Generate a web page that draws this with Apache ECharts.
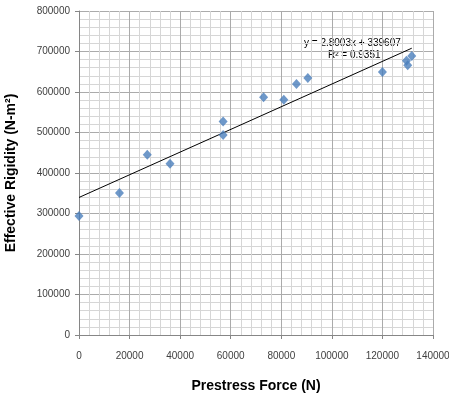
<!DOCTYPE html>
<html><head><meta charset="utf-8">
<script src="https://cdn.jsdelivr.net/npm/echarts@6/dist/echarts.min.js"></script>
<style>html,body{margin:0;padding:0;background:#fff}#c{width:449px;height:396px}</style>
</head><body><div id="c"></div>
<script>
const prestressForce = [0, 16000, 27000, 36000, 57000, 57000, 73000, 81000, 86000, 90500, 120000, 129500, 130000, 131600];
const effectiveRigidity = [294000, 350500, 445000, 423000, 527000, 494000, 587000, 581000, 620000, 634500, 649500, 677000, 666000, 689000];
const trendX = [0, 131600];
const trendY = [339607, 708127];
const xTicks = [0, 20000, 40000, 60000, 80000, 100000, 120000, 140000];
const yTicks = [0, 100000, 200000, 300000, 400000, 500000, 600000, 700000, 800000];
const eqText = 'y = 2.8003x + 339607';
const r2Text = 'R² = 0.9351';

const chart = echarts.init(document.getElementById('c'), null, {renderer: 'canvas'});
const labelStyle = {color: '#404040', fontSize: 10, fontFamily: 'Liberation Sans', formatter: v => String(v)};
chart.setOption({
  animation: false,
  grid: {left: 79, right: 16, top: 11, bottom: 61, containLabel: false, outerBoundsMode: 'none'},
  xAxis: {
    type: 'value', min: xTicks[0], max: xTicks[xTicks.length - 1], interval: 20000,
    name: 'Prestress Force (N)', nameLocation: 'middle', nameGap: 44,
    nameTextStyle: {fontSize: 14, fontWeight: 'bold', color: '#000', fontFamily: 'Liberation Sans'},
    axisLine: {lineStyle: {color: '#868686'}},
    axisTick: {show: true, length: 4, lineStyle: {color: '#868686'}},
    axisLabel: Object.assign({margin: 16}, labelStyle),
    splitLine: {show: true, lineStyle: {color: '#ababab', width: 1}},
    minorTick: {show: false, splitNumber: 5},
    minorSplitLine: {show: true, lineStyle: {color: '#d6d6d6', width: 1}}
  },
  yAxis: {
    type: 'value', min: yTicks[0], max: yTicks[yTicks.length - 1], interval: 100000,
    name: 'Effective Rigidity (N-m²)', nameLocation: 'middle', nameGap: 61,
    nameTextStyle: {fontSize: 14, fontWeight: 'bold', color: '#000', fontFamily: 'Liberation Sans'},
    axisLine: {show: true, lineStyle: {color: '#868686'}},
    axisTick: {show: true, length: 4, lineStyle: {color: '#868686'}},
    axisLabel: Object.assign({margin: 9}, labelStyle),
    splitLine: {show: true, lineStyle: {color: '#ababab', width: 1}},
    minorTick: {show: false, splitNumber: 5},
    minorSplitLine: {show: true, lineStyle: {color: '#d6d6d6', width: 1}}
  },
  series: [
    {
      type: 'line', data: trendX.map((x, i) => [x, trendY[i]]),
      symbol: 'none', lineStyle: {color: '#000', width: 1}, z: 3
    },
    {
      type: 'scatter', data: prestressForce.map((x, i) => [x, effectiveRigidity[i]]),
      symbol: 'diamond', symbolSize: [9, 10],
      itemStyle: {color: '#4a7ebb'}, z: 4
    }
  ],
  graphic: [
    {type: 'text', left: 304, top: 38, style: {text: eqText, fontSize: 10, fill: '#000', fontFamily: 'Liberation Sans'}},
    {type: 'text', left: 328, top: 50, style: {text: r2Text, fontSize: 10, fill: '#000', fontFamily: 'Liberation Sans'}}
  ]
});
</script></body></html>
